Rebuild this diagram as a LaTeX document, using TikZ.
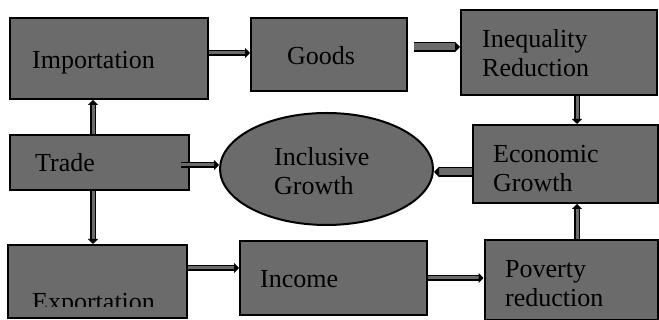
\documentclass[tikz,border=0pt]{standalone}
\usepackage{fontspec}
\setmainfont{Liberation Serif}
\usetikzlibrary{arrows.meta,shapes.geometric}
\definecolor{boxgray}{RGB}{107,107,107}
\begin{document}
\begin{tikzpicture}[x=1pt,y=1pt,
 box/.style={draw,line width=2pt,fill=boxgray,inner sep=0pt},
 lbl/.style={anchor=base west,inner sep=0pt,align=left,font=\fontsize{26}{29.5}\selectfont},
 arr/.style={line width=1.5pt,double=boxgray,double distance=3pt,-{Triangle[length=5pt,width=10pt]}},
 fatarr/.style={arr,double distance=7pt}]
 \useasboundingbox (0,0) rectangle (659,320);
 % boxes
 \node[box,minimum width=198,minimum height=81] (imp) at (109,261.5) {};
 \node[box,minimum width=156,minimum height=73] (goods) at (329,265.5) {};
 \node[box,minimum width=196,minimum height=85] (ineq) at (559,267.5) {};
 \node[box,minimum width=185,minimum height=78] (econ) at (565,156) {};
 \node[box,minimum width=179,minimum height=55] (trade) at (99.5,157.5) {};
 \node[box,ellipse,minimum width=213,minimum height=112] (incl) at (326.5,151) {};
 \node[box,minimum width=179,minimum height=73] (exp) at (97.5,38.5) {};
 \node[box,minimum width=187,minimum height=74] (inc) at (333.5,42) {};
 \node[box,minimum width=173,minimum height=80] (pov) at (571,40) {};
 % texts (base = last line)
 \node[lbl] (imptxt) at (32,251) {Importation};
 \node[lbl] (goodstxt) at (287,255) {Goods};
 \node[lbl] (ineqtxt) at (482,243) {Inequality\\Reduction};
 \node[lbl] (econtxt) at (493,128) {Economic\\Growth};
 \node[lbl] (tradetxt) at (35,148) {Trade};
 \node[lbl] (incltxt) at (274,125) {Inclusive\\Growth};
 \node[lbl] (inctxt) at (260,32) {Income};
 \node[lbl] (povtxt) at (505,13) {Poverty\\reduction};
 \begin{scope}
  \clip ([yshift=12pt]exp.south west) rectangle (exp.north east);
  \node[lbl] (exptxt) at (32,9) {Exportation};
 \end{scope}
 % arrows
 \draw[arr] ([yshift=1.5pt]goods.west -| imp.east) -- ([yshift=1.5pt]goods.west);
 \draw[fatarr] ([xshift=6pt,yshift=7.5pt]goods.east) -- ([yshift=7.5pt]goods.east -| ineq.west);
 \draw[arr] ([xshift=18pt]ineq.south) -- ([xshift=18pt]ineq.south |- econ.north);
 \draw[arr] ([xshift=-6.5pt]trade.north) -- ([xshift=-6.5pt]trade.north |- imp.south);
 \draw[arr] ([xshift=-9pt,yshift=-2.5pt]trade.east) -- ([yshift=-2.5pt]trade.east -| incl.west);
 \draw[arr] ([xshift=-6.5pt]trade.south) -- ([xshift=-6.5pt]trade.south |- exp.north);
 \draw[arr] ([yshift=13.5pt]exp.east) -- ([yshift=13.5pt]exp.east -| inc.west);
 \draw[arr] (inc.east) -- (inc.east -| pov.west);
 \draw[arr] ([xshift=6pt]pov.north) -- ([xshift=6pt]pov.north |- econ.south);
 \draw[fatarr] ([yshift=-8pt]econ.west) -- ([yshift=-8pt]econ.west -| incl.east);
\end{tikzpicture}
\end{document}
